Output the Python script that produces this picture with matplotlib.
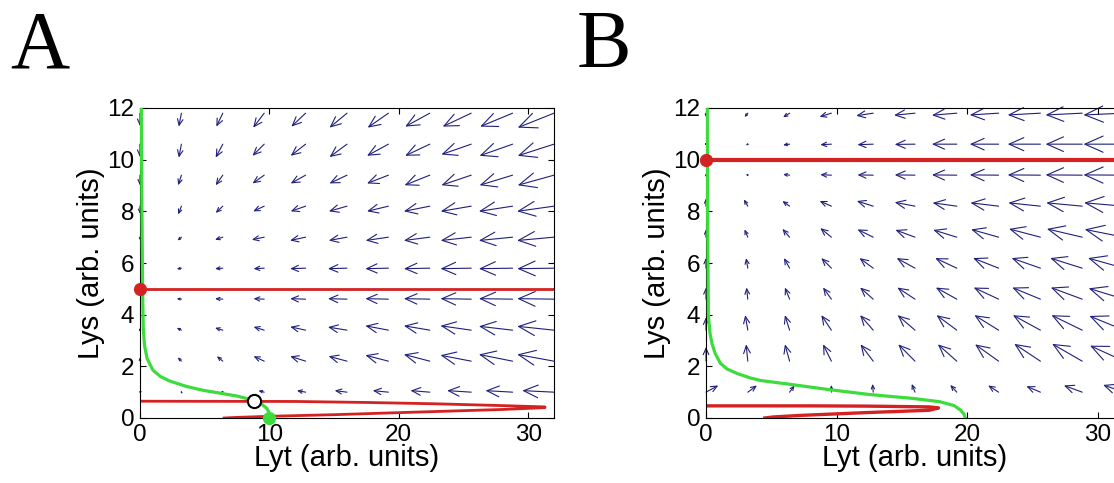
import numpy as np
import matplotlib
matplotlib.use("Agg")
import matplotlib.pyplot as plt

plt.rcParams['font.family'] = ['Liberation Sans', 'DejaVu Sans']

# rejilla del campo de direcciones (cola de cada flecha)
lyt_grid = [0.0, 3.2, 6.4, 9.6, 12.8, 16.0, 19.2, 22.4, 25.6, 28.8, 32.0]
lys_grid = [11.8, 10.6, 9.4, 8.2, 7.0, 5.8, 4.6, 3.4, 2.2, 1.0]

# panel A: componentes de las flechas (filas de arriba a abajo)
u_a = [
    [0, -0.20, -0.50, -0.85, -1.10, -1.35, -1.60, -1.90, -2.20, -2.50, -2.80],
    [0, -0.20, -0.55, -0.90, -1.15, -1.35, -1.65, -1.90, -2.30, -2.55, -2.80],
    [0, -0.25, -0.55, -0.90, -1.15, -1.35, -1.65, -1.95, -2.30, -2.55, -2.80],
    [0, -0.25, -0.55, -0.85, -1.15, -1.40, -1.65, -2.00, -2.35, -2.60, -2.85],
    [0, -0.30, -0.60, -0.95, -1.20, -1.40, -1.75, -2.00, -2.35, -2.60, -2.85],
    [0, -0.36, -0.60, -0.82, -1.19, -1.47, -1.78, -2.00, -2.37, -2.60, -2.84],
    [0, -0.36, -0.60, -0.82, -1.19, -1.47, -1.78, -2.00, -2.37, -2.60, -2.84],
    [0, -0.36, -0.60, -0.82, -1.19, -1.47, -1.78, -2.00, -2.37, -2.60, -2.84],
    [0, -0.28, -0.46, -0.82, -1.19, -1.42, -1.78, -2.00, -2.37, -2.60, -2.84],
    [0.15, -0.05, -0.13, -0.44, -0.67, -0.95, -1.21, -1.49, -1.86, -2.09, -2.45],
]
v_a = [
    [-0.50, -0.52, -0.52, -0.56, -0.52, -0.56, -0.56, -0.52, -0.52, -0.52, -0.56],
    [-0.50, -0.52, -0.52, -0.45, -0.45, -0.50, -0.45, -0.45, -0.40, -0.45, -0.45],
    [-0.40, -0.39, -0.39, -0.32, -0.32, -0.32, -0.32, -0.39, -0.39, -0.39, -0.39],
    [-0.30, -0.32, -0.26, -0.20, -0.20, -0.20, -0.20, -0.20, -0.20, -0.20, -0.20],
    [-0.12, -0.13, -0.10, -0.10, -0.13, -0.13, -0.13, -0.13, -0.13, -0.13, -0.13],
    [0, -0.03, -0.02, -0.02, -0.02, -0.02, -0.02, -0.02, -0.02, -0.02, -0.02],
    [0, 0.02, 0.02, 0.02, 0.02, 0.02, 0.02, 0.02, 0.02, 0.02, 0.02],
    [0.08, 0.09, 0.09, 0.13, 0.13, 0.12, 0.17, 0.17, 0.17, 0.15, 0.15],
    [0.15, 0.15, 0.19, 0.19, 0.19, 0.19, 0.23, 0.26, 0.23, 0.26, 0.26],
    [0.06, 0.04, 0.06, 0.06, 0.06, 0.06, 0.06, 0.06, 0.06, 0.06, 0.06],
]

# panel B
u_b = [
    [0, -0.25, -0.50, -0.90, -1.30, -1.60, -1.90, -2.20, -2.50, -2.80, -3.10],
    [0, -0.15, -0.50, -0.85, -1.20, -1.55, -1.90, -2.20, -2.50, -2.80, -3.10],
    [0, -0.15, -0.50, -0.85, -1.20, -1.55, -1.90, -2.20, -2.50, -2.80, -3.10],
    [0, -0.30, -0.55, -0.90, -1.25, -1.55, -1.85, -2.15, -2.45, -2.75, -3.05],
    [0, -0.25, -0.55, -0.85, -1.20, -1.50, -1.80, -2.10, -2.40, -2.70, -3.00],
    [0, -0.13, -0.43, -0.77, -1.05, -1.40, -1.65, -1.95, -2.20, -2.45, -2.75],
    [0, -0.10, -0.36, -0.64, -1.00, -1.35, -1.60, -1.90, -2.15, -2.40, -2.70],
    [0, -0.20, -0.36, -0.77, -1.00, -1.33, -1.55, -1.85, -2.10, -2.35, -2.65],
    [0, -0.13, -0.36, -0.64, -0.97, -1.28, -1.45, -1.80, -2.00, -2.30, -2.60],
    [0.94, 0.70, 0.38, 0.0, -0.05, -0.25, -0.50, -0.80, -1.07, -1.40, -1.60],
]
v_b = [
    [-0.15, -0.15, -0.16, -0.14, -0.10, -0.08, -0.08, -0.07, -0.07, -0.07, -0.07],
    [-0.05, -0.05, -0.03, -0.02, -0.02, -0.01, 0, 0, 0, 0, 0],
    [0.05, 0.04, 0.03, 0.02, 0.01, 0.01, 0.01, 0.01, 0.01, 0.01, 0.01],
    [0.30, 0.26, 0.20, 0.20, 0.20, 0.15, 0.13, 0.13, 0.13, 0.13, 0.13],
    [0.30, 0.30, 0.32, 0.35, 0.30, 0.28, 0.28, 0.30, 0.32, 0.32, 0.30],
    [0.40, 0.39, 0.39, 0.39, 0.39, 0.39, 0.39, 0.39, 0.39, 0.39, 0.39],
    [0.45, 0.45, 0.45, 0.45, 0.45, 0.45, 0.45, 0.45, 0.45, 0.45, 0.42],
    [0.50, 0.58, 0.58, 0.58, 0.58, 0.58, 0.58, 0.58, 0.58, 0.58, 0.55],
    [0.55, 0.65, 0.65, 0.65, 0.65, 0.65, 0.65, 0.65, 0.67, 0.67, 0.60],
    [0.26, 0.26, 0.26, 0.28, 0.32, 0.32, 0.28, 0.26, 0.23, 0.26, 0.28],
]

# nulclinas (verde) y curvas rojas
green_a_x = [0.1, 0.15, 0.2, 0.25, 0.35, 0.55, 1.0, 1.6, 2.3, 3.6, 4.9, 6.2, 7.5, 8.8, 9.3, 9.8, 10.05, 10.15]
green_a_y = [12, 8, 5, 3.5, 2.8, 2.3, 1.85, 1.6, 1.43, 1.22, 1.07, 0.96, 0.85, 0.68, 0.58, 0.37, 0.15, 0.0]
red_a_x = [0, 12, 17.7, 22.8, 28, 31.3, 31.3, 28, 20.2, 15.1, 9.9, 7.3, 6.5]
red_a_y = [0.65, 0.64, 0.60, 0.55, 0.48, 0.43, 0.40, 0.33, 0.21, 0.13, 0.065, 0.02, 0.0]
lys_fixed_a = 5

green_b_x = [0.1, 0.12, 0.18, 0.3, 0.45, 0.7, 1.1, 1.6, 2.4, 3.4, 4.2, 6.5, 9.4, 12.5, 15.8, 17.9, 19.0, 19.5, 19.75, 19.85]
green_b_y = [12, 8, 4, 3.3, 2.9, 2.5, 2.12, 1.9, 1.72, 1.55, 1.45, 1.3, 1.1, 0.91, 0.76, 0.63, 0.48, 0.3, 0.15, 0]
red_b_x = [0, 8, 12.3, 17.1, 17.8, 17.1, 12.3, 7.2, 5.15, 4.5]
red_b_y = [0.47, 0.47, 0.46, 0.43, 0.39, 0.30, 0.21, 0.10, 0.04, 0.0]
lys_fixed_b = 10

# punto de silla en A y estado inicial
saddle_a = (8.8, 0.65)
start_a = (10.0, 0.0)

red = '#d42222'
green = '#3ddc3d'
navy = '#20207a'


def campo(ax, U, V):
    # flechas estilo matlab (cabeza abierta, proporcional a la longitud)
    for i, yv in enumerate(lys_grid):
        for j, xv in enumerate(lyt_grid):
            u, v = U[i][j], V[i][j]
            p0 = ax.transData.transform((xv, yv))
            p1 = ax.transData.transform((xv + u, yv + v))
            L = np.hypot(*(p1 - p0)) * 0.72
            if L < 0.5:
                continue
            ax.annotate('', xy=(xv + u, yv + v), xytext=(xv, yv),
                        arrowprops=dict(arrowstyle='->,head_length=0.45,head_width=0.2',
                                        color=navy, lw=0.8, shrinkA=0, shrinkB=0,
                                        mutation_scale=L),
                        annotation_clip=False, zorder=1)


def ejes(ax):
    ax.set_xlim(0, 32)
    ax.set_ylim(0, 12)
    ax.set_xticks([0, 10, 20, 30])
    ax.set_yticks([0, 2, 4, 6, 8, 10, 12])
    ax.tick_params(direction='in', length=4, top=True, right=True, labelsize=17.5, pad=4)
    ax.set_xlabel('Lyt (arb. units)', fontsize=21, labelpad=-1)
    ax.set_ylabel('Lys (arb. units)', fontsize=21, labelpad=2)


fig = plt.figure(figsize=(11.14, 4.83), dpi=100)
axA = fig.add_axes([140 / 1114, 65 / 483, 414 / 1114, 310 / 483])
axB = fig.add_axes([706 / 1114, 65 / 483, 418 / 1114, 310 / 483])
ejes(axA)
ejes(axB)

campo(axA, u_a, v_a)
axA.plot(red_a_x, red_a_y, color=red, lw=2.0, zorder=2)
axA.axhline(lys_fixed_a, color=red, lw=2.0, zorder=2)
axA.plot(green_a_x, green_a_y, color=green, lw=2.3, zorder=3)
axA.plot(0, lys_fixed_a, 'o', color=red, ms=8.5, clip_on=False, zorder=5)
axA.plot(*start_a, 'o', color=green, ms=8.5, clip_on=False, zorder=5)
axA.plot(*saddle_a, 'o', mfc='white', mec='black', mew=1.5, ms=9.5, zorder=6)

campo(axB, u_b, v_b)
axB.plot(red_b_x, red_b_y, color=red, lw=2.4, zorder=2)
axB.axhline(lys_fixed_b, color=red, lw=3.0, zorder=2)
axB.plot(green_b_x, green_b_y, color=green, lw=2.3, zorder=3)
axB.plot(0, lys_fixed_b, 'o', color=red, ms=8.5, clip_on=False, zorder=5)

fig.text(10 / 1114, 1 - 67 / 483, 'A', fontsize=59, family='Liberation Serif', va='baseline')
fig.text(577 / 1114, 1 - 67 / 483, 'B', fontsize=59, family='Liberation Serif', va='baseline')

fig.savefig('out.png', dpi=100)
